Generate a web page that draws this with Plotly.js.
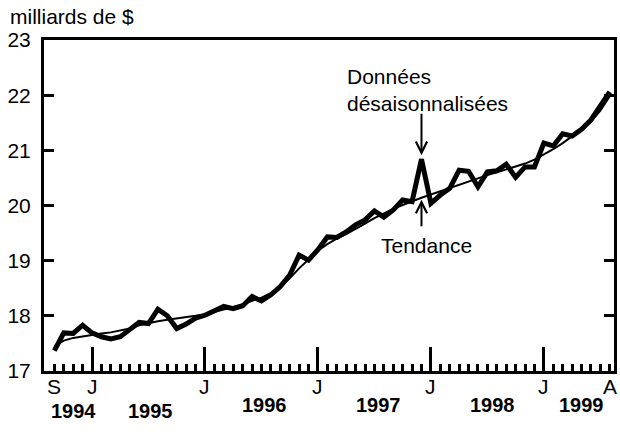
<!DOCTYPE html>
<html>
<head>
<meta charset="utf-8">
<script src="https://cdn.plot.ly/plotly-3.0.1.min.js"></script>
<style>
html,body{margin:0;padding:0;background:#fff;}
#chart{width:620px;height:442px;}
</style>
</head>
<body>
<div id="chart"></div>
<script>
// Monthly series, September 1994 to August 1999 (billions of dollars)
const months = [
  '1994-09','1994-10','1994-11','1994-12',
  '1995-01','1995-02','1995-03','1995-04','1995-05','1995-06','1995-07','1995-08','1995-09','1995-10','1995-11','1995-12',
  '1996-01','1996-02','1996-03','1996-04','1996-05','1996-06','1996-07','1996-08','1996-09','1996-10','1996-11','1996-12',
  '1997-01','1997-02','1997-03','1997-04','1997-05','1997-06','1997-07','1997-08','1997-09','1997-10','1997-11','1997-12',
  '1998-01','1998-02','1998-03','1998-04','1998-05','1998-06','1998-07','1998-08','1998-09','1998-10','1998-11','1998-12',
  '1999-01','1999-02','1999-03','1999-04','1999-05','1999-06','1999-07','1999-08'
];
const seasonallyAdjusted = [
  17.37, 17.69, 17.68, 17.83,
  17.69, 17.62, 17.58, 17.62, 17.75, 17.88, 17.86, 18.12, 18.00, 17.77, 17.85, 17.96,
  18.01, 18.10, 18.17, 18.13, 18.18, 18.35, 18.27, 18.38, 18.53, 18.74, 19.10, 19.01,
  19.20, 19.43, 19.42, 19.52, 19.65, 19.74, 19.90, 19.79, 19.92, 20.10, 20.07, 20.84,
  20.04, 20.19, 20.31, 20.64, 20.62, 20.34, 20.61, 20.63, 20.75, 20.51, 20.70, 20.70,
  21.13, 21.08, 21.30, 21.26, 21.38, 21.55, 21.79, 22.06
];
const trend = [
  17.45, 17.55, 17.60, 17.63,
  17.66, 17.68, 17.70, 17.73, 17.77, 17.83, 17.87, 17.90, 17.93, 17.95, 17.97, 18.00,
  18.03, 18.07, 18.11, 18.16, 18.21, 18.27, 18.33, 18.41, 18.52, 18.68, 18.86, 19.02,
  19.18, 19.30, 19.40, 19.48, 19.57, 19.67, 19.77, 19.86, 19.94, 20.01, 20.08, 20.14,
  20.20, 20.26, 20.32, 20.38, 20.44, 20.50, 20.55, 20.60, 20.65, 20.70, 20.76, 20.83,
  20.92, 21.02, 21.13, 21.25, 21.38, 21.52, 21.72, 21.98
];
const monthTickLabels = ['S', 'J', 'J', 'J', 'J', 'J', 'A'];
const monthTickMonths = ['1994-09', '1995-01', '1996-01', '1997-01', '1998-01', '1999-01', '1999-08'];
const majorTickMonths = ['1995-01', '1996-01', '1997-01', '1998-01', '1999-01'];
const yearLabels = ['1994', '1995', '1996', '1997', '1998', '1999'];
const yearLabelPos = [2.0, 10.2, 22.3, 34.4, 46.5, 56.0];
const yearLabelY = [-0.121, -0.121, -0.103, -0.103, -0.103, -0.103];
const yTicks = [17, 18, 19, 20, 21, 22, 23];
const spikeMonth = '1997-12';

const idx = m => months.indexOf(m);
const xs = months.map((m, i) => i);
const FONT = 'Liberation Sans, Arial, sans-serif';
const FS = 21;

const traces = [
  {x: xs, y: seasonallyAdjusted, mode: 'lines', line: {color: '#000', width: 5}, hoverinfo: 'skip'},
  {x: xs, y: trend, mode: 'lines', line: {color: '#000', width: 2}, hoverinfo: 'skip'}
];

const annotations = [];
monthTickLabels.forEach((t, k) => {
  annotations.push({x: idx(monthTickMonths[k]), xref: 'x', y: -0.048, yref: 'paper',
    text: t, showarrow: false, xanchor: 'center', yanchor: 'middle',
    font: {family: FONT, size: FS, color: '#000'}});
});
yearLabels.forEach((t, k) => {
  annotations.push({x: yearLabelPos[k], xref: 'x', y: yearLabelY[k], yref: 'paper',
    text: '<b>' + t + '</b>', showarrow: false, xanchor: 'center', yanchor: 'middle',
    font: {family: FONT, size: 20, color: '#000'}});
});
annotations.push({x: -0.0632, xref: 'paper', y: 1.07, yref: 'paper', text: 'milliards de $',
  showarrow: false, xanchor: 'left', yanchor: 'middle', font: {family: FONT, size: FS, color: '#000'}});
const s = idx(spikeMonth);
annotations.push({x: s, y: seasonallyAdjusted[s], xref: 'x', yref: 'y', text: '', showarrow: true,
  ax: 0, ay: -47, arrowhead: 5, arrowsize: 1.1, arrowwidth: 2, arrowcolor: '#000', standoff: 4});
annotations.push({x: s, y: trend[s], xref: 'x', yref: 'y', text: '', showarrow: true,
  ax: 0, ay: 30, arrowhead: 5, arrowsize: 1.1, arrowwidth: 2, arrowcolor: '#000', standoff: 2});
annotations.push({x: 30.9, xref: 'x', y: 22.1, yref: 'y', text: 'Données<br>désaisonnalisées',
  showarrow: false, xanchor: 'left', yanchor: 'middle', align: 'left',
  font: {family: FONT, size: FS, color: '#000'}});
annotations.push({x: 39.5, xref: 'x', y: 19.28, yref: 'y', text: 'Tendance',
  showarrow: false, xanchor: 'center', yanchor: 'middle',
  font: {family: FONT, size: FS, color: '#000'}});

const layout = {
  width: 620, height: 442,
  margin: {l: 44, r: 6, t: 40, b: 71, pad: 0},
  paper_bgcolor: '#fff', plot_bgcolor: '#fff',
  showlegend: false,
  font: {family: FONT, size: FS, color: '#000'},
  xaxis: {
    range: [-1.1, 59.45], showgrid: false, zeroline: false,
    showline: true, linecolor: '#000', linewidth: 3, mirror: true,
    tickmode: 'array', tickvals: majorTickMonths.map(idx), showticklabels: false,
    ticks: 'inside', ticklen: 24, tickwidth: 3, tickcolor: '#000',
    minor: {tickmode: 'linear', tick0: 0, dtick: 1, ticks: 'inside', ticklen: 7, tickwidth: 3, tickcolor: '#000', showgrid: false}
  },
  yaxis: {
    range: [17, 23], showgrid: false, zeroline: false,
    showline: true, linecolor: '#000', linewidth: 3, mirror: 'allticks',
    tickmode: 'array', tickvals: yTicks,
    ticks: 'inside', ticklen: 10, tickwidth: 3, tickcolor: '#000',
    ticklabelstandoff: 6,
    tickfont: {family: FONT, size: FS, color: '#000'}
  },
  annotations: annotations
};

Plotly.newPlot('chart', traces, layout, {staticPlot: true, displayModeBar: false});
</script>
</body>
</html>
